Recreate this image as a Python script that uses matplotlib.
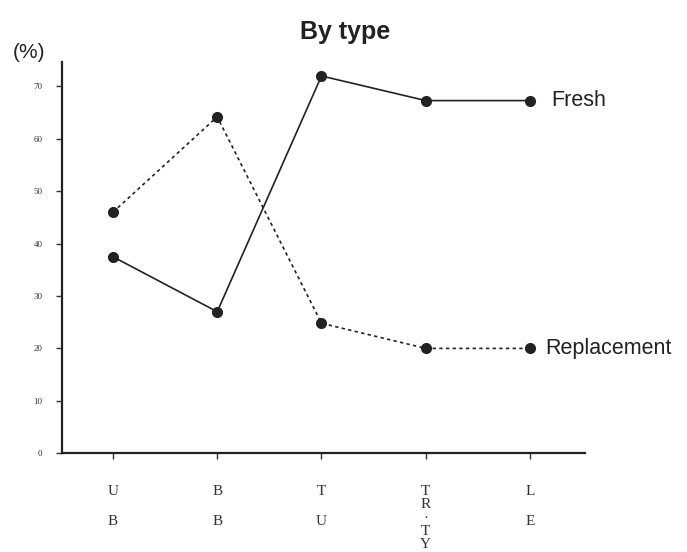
import matplotlib
matplotlib.use("Agg")
import matplotlib.pyplot as plt

# categories (stacked letters under each tick)
categories = ["U\nB", "B\nB", "T\nU", "T\nR\n·\nT\nY", "L\nE"]
fresh = [37.5, 27, 72, 67.3, 67.3]
replacement = [46, 64.2, 24.8, 20, 20]
yticks = [0, 10, 20, 30, 40, 50, 60, 70]

fig = plt.figure(figsize=(6.87, 5.52), dpi=100)
ax = fig.add_axes([0.090, 0.179, 0.762, 0.709])

x = list(range(len(categories)))
ax.plot(x, fresh, color="#222222", lw=1.2, marker="o", ms=7, ls="-")
ax.plot(x, replacement, color="#222222", lw=1.2, marker="o", ms=7, ls=(0, (2, 2)))

ax.annotate("Fresh", (x[-1], fresh[-1]), xytext=(15, 0), textcoords="offset points",
            va="center", ha="left", fontsize=15.5, family="Liberation Sans", color="#222222")
ax.annotate("Replacement", (x[-1], replacement[-1]), xytext=(11, 0), textcoords="offset points",
            va="center", ha="left", fontsize=15.5, family="Liberation Sans", color="#222222",
            annotation_clip=False)

ax.set_xlim(-0.49, 4.53)
ax.set_ylim(0, 74.7)

ax.set_yticks(yticks)
ax.set_yticklabels([str(v) for v in yticks], fontsize=6.5, family="Liberation Serif")
ax.set_xticks(x)
ax.set_xticklabels(categories, fontsize=11, family="Liberation Serif")
for i, t in enumerate(ax.get_xticklabels()):
    t.set_linespacing(1.02 if i == 3 else 2.65)

ax.tick_params(axis="both", direction="out", length=4, width=1, color="#333333", labelcolor="#333333")
ax.tick_params(axis="x", pad=19)
ax.tick_params(axis="y", pad=10)

for s in ["top", "right"]:
    ax.spines[s].set_visible(False)
for s in ["left", "bottom"]:
    ax.spines[s].set_linewidth(1.6)
    ax.spines[s].set_color("#222222")

fig.text(0.502, 0.942, "By type", ha="center", va="center", fontsize=18,
         fontweight="bold", family="Liberation Sans", color="#222222")
fig.text(0.018, 0.904, "(%)", ha="left", va="center", fontsize=15,
         family="Liberation Sans", color="#222222")

fig.savefig("out.png", dpi=100)
